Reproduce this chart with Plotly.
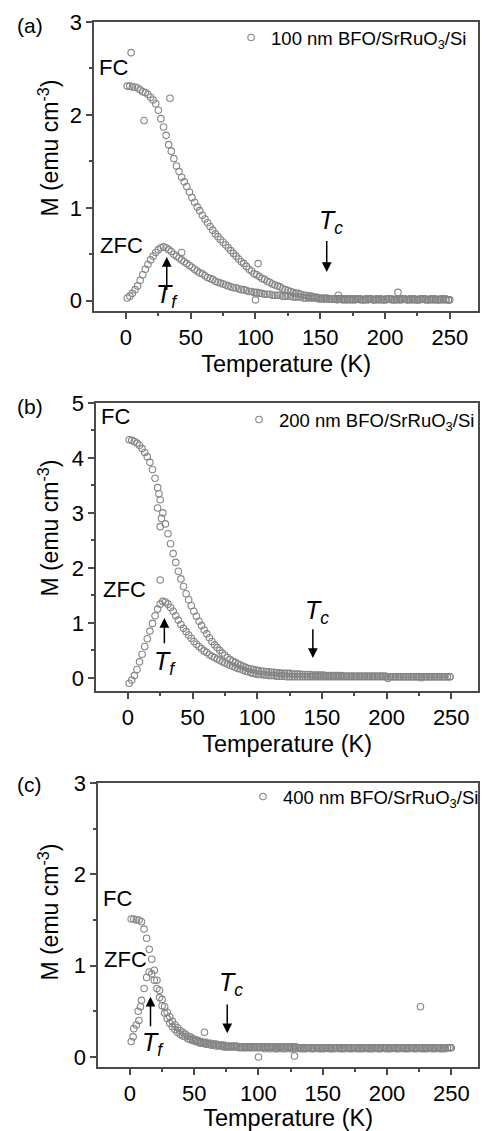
import plotly.graph_objects as go

# ---------------- data ----------------
temps = [1, 3, 5, 7, 9, 11, 13, 15, 17, 19,
         21, 23, 25, 27, 29, 31, 33, 35, 37, 39,
         41, 43, 45, 47, 49, 51, 53, 55, 57, 59,
         61, 63, 65, 67, 69, 71, 73, 75, 77, 79,
         81, 83, 85, 87, 89, 91, 93, 95, 97, 99,
         101, 103, 105, 107, 109, 111, 113, 115, 117, 119,
         121, 123, 125, 127, 129, 131, 133, 135, 137, 139,
         141, 143, 145, 147, 149, 151, 153, 155, 157, 159,
         161, 163, 165, 167, 169, 171, 173, 175, 177, 179,
         181, 183, 185, 187, 189, 191, 193, 195, 197, 199,
         201, 203, 205, 207, 209, 211, 213, 215, 217, 219,
         221, 223, 225, 227, 229, 231, 233, 235, 237, 239,
         241, 243, 245, 247, 249]

fc_100 = [2.31, 2.31, 2.30, 2.30, 2.29, 2.27, 2.25, 2.24, 2.22, 2.19,
          2.16, 2.12, 2.05, 1.96, 1.87, 1.78, 1.68, 1.61, 1.53, 1.45,
          1.39, 1.33, 1.28, 1.23, 1.17, 1.11, 1.06, 1.01, 0.97, 0.92,
          0.88, 0.84, 0.80, 0.76, 0.72, 0.69, 0.66, 0.63, 0.60, 0.57,
          0.54, 0.51, 0.48, 0.45, 0.42, 0.40, 0.37, 0.34, 0.32, 0.29,
          0.28, 0.26, 0.24, 0.23, 0.21, 0.20, 0.18, 0.17, 0.16, 0.15,
          0.13, 0.12, 0.11, 0.10, 0.09, 0.08, 0.08, 0.07, 0.06, 0.06,
          0.05, 0.05, 0.04, 0.04, 0.03, 0.03, 0.03, 0.03, 0.02, 0.02,
          0.02, 0.02, 0.02, 0.02, 0.02, 0.01, 0.02, 0.02, 0.02, 0.02,
          0.02, 0.01, 0.02, 0.02, 0.02, 0.01, 0.02, 0.02, 0.02, 0.01,
          0.02, 0.02, 0.02, 0.01, 0.02, 0.02, 0.02, 0.02, 0.01, 0.02,
          0.02, 0.02, 0.01, 0.02, 0.02, 0.02, 0.01, 0.02, 0.02, 0.02,
          0.01, 0.02, 0.02, 0.02, 0.01]
zfc_100 = [0.03, 0.05, 0.08, 0.12, 0.16, 0.22, 0.28, 0.34, 0.39, 0.44,
           0.48, 0.52, 0.55, 0.57, 0.58, 0.57, 0.55, 0.53, 0.50, 0.48,
           0.46, 0.44, 0.42, 0.40, 0.38, 0.36, 0.34, 0.32, 0.30, 0.29,
           0.27, 0.25, 0.24, 0.23, 0.21, 0.20, 0.19, 0.18, 0.17, 0.16,
           0.15, 0.14, 0.14, 0.13, 0.12, 0.12, 0.11, 0.10, 0.10, 0.09,
           0.09, 0.08, 0.08, 0.07, 0.07, 0.07, 0.06, 0.06, 0.06, 0.06,
           0.05, 0.05, 0.05, 0.05, 0.04, 0.04, 0.04, 0.04, 0.03, 0.03,
           0.03, 0.03, 0.03, 0.03, 0.02, 0.02, 0.02, 0.02, 0.02, 0.02,
           0.02, 0.01, 0.02, 0.01, 0.01, 0.02, 0.01, 0.01, 0.01, 0.02,
           0.01, 0.01, 0.01, 0.01, 0.02, 0.01, 0.01, 0.01, 0.01, 0.01,
           0.01, 0.02, 0.01, 0.01, 0.01, 0.01, 0.01, 0.02, 0.01, 0.01,
           0.01, 0.01, 0.01, 0.01, 0.02, 0.01, 0.01, 0.01, 0.01, 0.01,
           0.01, 0.01, 0.01, 0.01, 0.01]
extra_t_100 = [4, 14, 34, 43, 100, 102, 164, 210, 250]
extra_m_100 = [2.67, 1.94, 2.18, 0.52, 0.01, 0.40, 0.06, 0.09, 0.01]

fc_200 = [4.33, 4.32, 4.30, 4.27, 4.23, 4.17, 4.10, 4.02, 3.92, 3.79,
          3.63, 3.46, 3.24, 3.00, 2.80, 2.62, 2.44, 2.26, 2.10, 1.94,
          1.80, 1.66, 1.53, 1.42, 1.31, 1.21, 1.12, 1.03, 0.95, 0.87,
          0.80, 0.73, 0.66, 0.60, 0.55, 0.50, 0.45, 0.41, 0.37, 0.33,
          0.30, 0.28, 0.25, 0.23, 0.21, 0.19, 0.17, 0.16, 0.15, 0.14,
          0.13, 0.12, 0.12, 0.11, 0.11, 0.10, 0.10, 0.09, 0.09, 0.08,
          0.08, 0.08, 0.08, 0.07, 0.07, 0.07, 0.07, 0.06, 0.06, 0.06,
          0.06, 0.05, 0.05, 0.05, 0.05, 0.05, 0.04, 0.04, 0.04, 0.04,
          0.04, 0.04, 0.04, 0.03, 0.03, 0.03, 0.03, 0.03, 0.03, 0.03,
          0.03, 0.03, 0.03, 0.03, 0.03, 0.03, 0.03, 0.03, 0.03, 0.03,
          0.02, 0.02, 0.02, 0.02, 0.02, 0.02, 0.02, 0.02, 0.02, 0.02,
          0.02, 0.02, 0.02, 0.02, 0.02, 0.02, 0.02, 0.02, 0.02, 0.02,
          0.02, 0.02, 0.02, 0.02, 0.02]
zfc_200 = [-0.10, -0.04, 0.04, 0.15, 0.29, 0.43, 0.57, 0.71, 0.85, 0.99,
           1.13, 1.25, 1.34, 1.39, 1.38, 1.34, 1.28, 1.21, 1.13, 1.05,
           0.97, 0.90, 0.84, 0.78, 0.72, 0.66, 0.61, 0.57, 0.53, 0.49,
           0.46, 0.42, 0.39, 0.37, 0.34, 0.32, 0.29, 0.27, 0.25, 0.23,
           0.21, 0.19, 0.17, 0.16, 0.14, 0.12, 0.11, 0.09, 0.08, 0.07,
           0.06, 0.06, 0.05, 0.05, 0.04, 0.04, 0.04, 0.03, 0.03, 0.03,
           0.03, 0.02, 0.02, 0.02, 0.02, 0.02, 0.02, 0.02, 0.02, 0.02,
           0.02, 0.02, 0.02, 0.02, 0.02, 0.02, 0.02, 0.02, 0.02, 0.02,
           0.02, 0.02, 0.02, 0.02, 0.02, 0.02, 0.02, 0.02, 0.02, 0.02,
           0.02, 0.02, 0.02, 0.02, 0.02, 0.02, 0.02, 0.02, 0.02, 0.02,
           -0.01, 0.02, 0.02, 0.02, 0.02, 0.02, 0.02, 0.02, 0.02, 0.02,
           0.02, 0.02, 0.02, 0.00, 0.02, 0.02, 0.02, 0.02, 0.02, 0.02,
           0.02, 0.02, 0.02, 0.02, 0.02]
extra_t_200 = [23, 24, 25, 26, 25]
extra_m_200 = [3.09, 3.35, 2.75, 2.90, 1.78]

fc_400 = [1.51, 1.51, 1.50, 1.50, 1.48, 1.40, 1.30, 1.18, 1.07, 0.95,
          0.84, 0.73, 0.63, 0.55, 0.49, 0.44, 0.39, 0.35, 0.32, 0.29,
          0.27, 0.25, 0.23, 0.22, 0.20, 0.19, 0.18, 0.17, 0.16, 0.16,
          0.15, 0.15, 0.14, 0.14, 0.13, 0.13, 0.13, 0.12, 0.12, 0.12,
          0.12, 0.12, 0.11, 0.11, 0.11, 0.11, 0.11, 0.11, 0.11, 0.11,
          0.11, 0.11, 0.11, 0.11, 0.11, 0.11, 0.11, 0.11, 0.11, 0.11,
          0.11, 0.11, 0.11, 0.11, 0.11, 0.10, 0.10, 0.10, 0.10, 0.10,
          0.10, 0.10, 0.10, 0.10, 0.10, 0.10, 0.10, 0.10, 0.10, 0.10,
          0.10, 0.10, 0.10, 0.10, 0.10, 0.10, 0.10, 0.10, 0.10, 0.10,
          0.10, 0.10, 0.10, 0.10, 0.10, 0.10, 0.10, 0.10, 0.10, 0.10,
          0.10, 0.10, 0.10, 0.10, 0.10, 0.10, 0.10, 0.10, 0.10, 0.10,
          0.10, 0.10, 0.10, 0.10, 0.10, 0.10, 0.10, 0.10, 0.10, 0.10,
          0.10, 0.10, 0.10, 0.10, 0.10]
zfc_400 = [0.17, 0.31, 0.35, 0.40, 0.62, 0.75, 0.87, 0.93, 0.91, 0.84,
           0.75, 0.65, 0.56, 0.48, 0.42, 0.37, 0.33, 0.30, 0.27, 0.25,
           0.23, 0.22, 0.20, 0.19, 0.18, 0.17, 0.16, 0.15, 0.15, 0.14,
           0.14, 0.13, 0.13, 0.12, 0.12, 0.12, 0.11, 0.11, 0.11, 0.11,
           0.11, 0.11, 0.10, 0.10, 0.10, 0.10, 0.10, 0.10, 0.10, 0.10,
           0.10, 0.10, 0.09, 0.10, 0.09, 0.10, 0.09, 0.09, 0.10, 0.09,
           0.09, 0.10, 0.09, 0.09, 0.09, 0.10, 0.09, 0.09, 0.09, 0.10,
           0.09, 0.09, 0.10, 0.09, 0.09, 0.09, 0.10, 0.09, 0.09, 0.09,
           0.10, 0.09, 0.09, 0.09, 0.10, 0.09, 0.09, 0.10, 0.09, 0.09,
           0.09, 0.10, 0.09, 0.09, 0.09, 0.10, 0.09, 0.09, 0.10, 0.09,
           0.09, 0.09, 0.10, 0.09, 0.09, 0.10, 0.09, 0.09, 0.09, 0.10,
           0.09, 0.09, 0.10, 0.09, 0.09, 0.09, 0.10, 0.09, 0.09, 0.10,
           0.09, 0.09, 0.09, 0.10, 0.10]
extra_t_400 = [2.5, 6.4, 8.2, 58, 100, 128, 226, 250]
extra_m_400 = [0.22, 0.50, 0.55, 0.27, 0.00, 0.01, 0.55, 0.10]

legend_names = ["100 nm BFO/SrRuO<sub>3</sub>/Si",
                "200 nm BFO/SrRuO<sub>3</sub>/Si",
                "400 nm BFO/SrRuO<sub>3</sub>/Si"]
panel_labels = ["(a)", "(b)", "(c)"]
x_title = "Temperature (K)"
y_title = "M (emu cm<sup>-3</sup>)"

# ---------------- layout helpers ----------------
W, H = 484, 1131
FONT = "Liberation Sans, Arial, sans-serif"
GRAY = "#858585"
AX = "#4a4a4a"

panels = [
    dict(fc=fc_100, zfc=zfc_100, et=extra_t_100, em=extra_m_100,
         xpx=(95, 482), ypx=(22, 311), xr=[-24.5, 271.8], yr=[-0.11, 3.0],
         fc_lab=(-22.6, 2.51), zfc_lab=(-21.8, 0.60),
         tc_txt=(158.5, 0.85), tc_arr=(155, 0.66, 0.31),
         tf_txt=(32, 0.05), tf_arr=(31.5, 0.10, 0.47),
         leg=(233, 38), lab_y=26, ytitle_y=148),
    dict(fc=fc_200, zfc=zfc_200, et=extra_t_200, em=extra_m_200,
         xpx=(97, 482), ypx=(403, 691), xr=[-24.5, 270.7], yr=[-0.24, 5.0],
         fc_lab=(-22.6, 4.76), zfc_lab=(-21.1, 1.60),
         tc_txt=(146.5, 1.20), tc_arr=(143, 0.91, 0.36),
         tf_txt=(28.4, 0.27), tf_arr=(28.2, 0.60, 1.09),
         leg=(241, 420), lab_y=406, ytitle_y=528),
    dict(fc=fc_400, zfc=zfc_400, et=extra_t_400, em=extra_m_400,
         xpx=(99, 482), ypx=(783, 1067), xr=[-24.7, 270.8], yr=[-0.11, 3.0],
         fc_lab=(-22.8, 1.74), zfc_lab=(-22.0, 1.07),
         tc_txt=(78.7, 0.80), tc_arr=(75.7, 0.59, 0.26),
         tf_txt=(17.7, 0.14), tf_arr=(16, 0.32, 0.66),
         leg=(245, 797), lab_y=784, ytitle_y=912),
]

fig = go.Figure()
annotations = []
layout_extra = {}

for i, p in enumerate(panels):
    n = "" if i == 0 else str(i + 1)
    xa, ya = "x" + n, "y" + n
    legname = "legend" + n
    marker = dict(symbol="circle-open", size=6.5, color=GRAY, line=dict(width=1.1, color=GRAY))
    for j, (xs, ys) in enumerate([(temps, p["fc"]), (temps, p["zfc"]), (p["et"], p["em"])]):
        fig.add_trace(go.Scatter(
            x=xs, y=ys, mode="markers", marker=marker,
            name=legend_names[i], showlegend=(j == 0), legend=legname,
            xaxis=xa, yaxis=ya, cliponaxis=False))

    x0, x1 = p["xpx"]
    y0, y1 = p["ypx"]
    common = dict(showline=True, linecolor=AX, linewidth=1.5, mirror=True,
                  ticks="outside", ticklen=6, tickwidth=1.5, tickcolor=AX,
                  showgrid=False, zeroline=False, automargin=False,
                  tickfont=dict(family=FONT, size=22, color="black"))
    layout_extra["xaxis" + n] = dict(
        common, domain=[x0 / W, x1 / W], range=p["xr"], anchor=ya,
        tickmode="linear", tick0=0, dtick=50,
        minor=dict(dtick=25, ticks="outside", ticklen=3, tickcolor=AX, tickwidth=1.5),
        title=dict(text=x_title, font=dict(family=FONT, size=23.5, color="black"),
                   standoff=6))
    layout_extra["yaxis" + n] = dict(
        common, domain=[1 - y1 / H, 1 - y0 / H], range=p["yr"], anchor=xa,
        tickmode="linear", tick0=0, dtick=1,
        minor=dict(dtick=0.5, ticks="outside", ticklen=3, tickcolor=AX, tickwidth=1.5))
    lx, ly = p["leg"]
    layout_extra[legname] = dict(
        x=lx / W, y=1 - ly / H, xanchor="left", yanchor="middle",
        bgcolor="rgba(0,0,0,0)", borderwidth=0,
        font=dict(family=FONT, size=18.5, color="black"))

    tfont = dict(family=FONT, size=22, color="black")
    annotations += [
        dict(x=49 / W, y=1 - p["ytitle_y"] / H, xref="paper", yref="paper",
             text=y_title, textangle=-90, showarrow=False,
             xanchor="center", yanchor="middle",
             font=dict(family=FONT, size=23, color="black")),
        dict(x=p["fc_lab"][0], y=p["fc_lab"][1], xref=xa, yref=ya, text="FC",
             showarrow=False, xanchor="left", yanchor="middle", font=tfont),
        dict(x=p["zfc_lab"][0], y=p["zfc_lab"][1], xref=xa, yref=ya, text="ZFC",
             showarrow=False, xanchor="left", yanchor="middle", font=tfont),
        dict(x=p["tc_txt"][0], y=p["tc_txt"][1], xref=xa, yref=ya,
             text="<i>T</i><sub><i>c</i></sub>", showarrow=False,
             font=dict(family=FONT, size=25, color="black")),
        dict(x=p["tf_txt"][0], y=p["tf_txt"][1], xref=xa, yref=ya,
             text="<i>T</i><sub><i>f</i></sub>", showarrow=False,
             font=dict(family=FONT, size=25, color="black")),
        dict(x=p["tc_arr"][0], y=p["tc_arr"][2], ax=p["tc_arr"][0], ay=p["tc_arr"][1],
             xref=xa, yref=ya, axref=xa, ayref=ya, text="", showarrow=True,
             arrowhead=2, arrowsize=1.3, arrowwidth=1.5, arrowcolor="black", standoff=0),
        dict(x=p["tf_arr"][0], y=p["tf_arr"][2], ax=p["tf_arr"][0], ay=p["tf_arr"][1],
             xref=xa, yref=ya, axref=xa, ayref=ya, text="", showarrow=True,
             arrowhead=2, arrowsize=1.3, arrowwidth=1.5, arrowcolor="black", standoff=0),
        dict(x=30 / W, y=1 - p["lab_y"] / H, xref="paper", yref="paper",
             text=panel_labels[i], showarrow=False, xanchor="center", yanchor="middle",
             font=dict(family=FONT, size=21, color="black")),
    ]

fig.update_layout(
    width=W, height=H,
    margin=dict(l=0, r=0, t=0, b=0),
    paper_bgcolor="white", plot_bgcolor="white",
    font=dict(family=FONT, color="black"),
    annotations=annotations,
    **layout_extra,
)

fig.write_html("out.html")
